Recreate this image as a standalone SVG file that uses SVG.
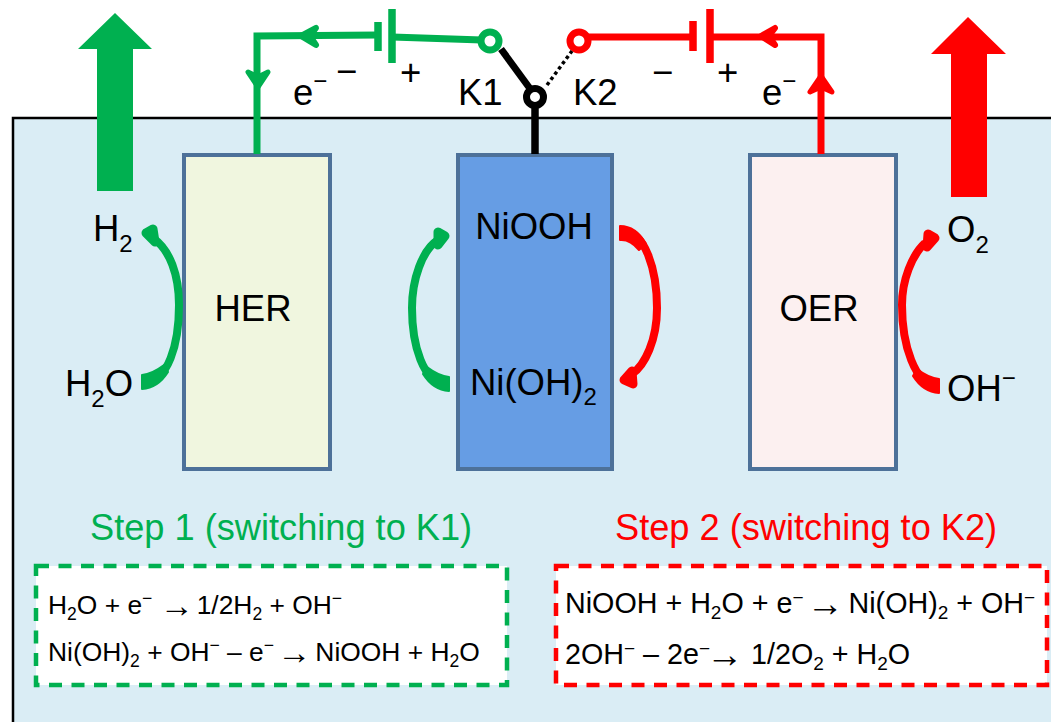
<svg xmlns="http://www.w3.org/2000/svg" width="1051" height="722" viewBox="0 0 1051 722">
<style>
text{font-family:"Liberation Sans",Arial,sans-serif;fill:#000}
.l{font-size:36.5px}
.eq{font-size:26.4px}
.eq2{font-size:28.7px}
.s{font-size:36.2px}
.e{stroke:#4d7199;stroke-width:4}
.g{stroke:#00b050;fill:none}
.r{stroke:#ff0000;fill:none}
.gf{fill:#00b050;stroke:#00b050;stroke-linejoin:round}
.rf{fill:#ff0000;stroke:#ff0000;stroke-linejoin:round}
</style>
<rect width="1051" height="722" fill="#fff"/>
<path d="M13 722V118H1051V722Z" fill="#daedf5"/>
<path d="M13 722V118H1051" fill="none" stroke="#000" stroke-width="2.5"/>
<g id="her"><rect class="e" x="184" y="155" width="146" height="314" fill="#f0f6df"/><text class="l" x="253" y="321" text-anchor="middle">HER</text></g>
<g id="ni"><rect class="e" x="458" y="155" width="154" height="314" fill="#669de4"/><text class="l" x="534" y="239" text-anchor="middle">NiOOH</text><text class="l" x="470" y="395">Ni(OH)<tspan font-size="24" dy="10">2</tspan></text></g>
<g id="oer"><rect class="e" x="750" y="155" width="146" height="314" fill="#fcf0f0"/><text class="l" x="819" y="321" text-anchor="middle">OER</text></g>
<g id="connectors">
<path class="g" stroke-width="7" d="M257 154V36L378 35"/>
<path class="g" stroke-width="7" d="M392 37L482 40"/>
<path class="g" stroke-width="7.5" d="M378 22V51M392 9V63"/>
<path class="gf" stroke-width="6" d="M301 36L316 28L310 36L316 45Z"/>
<path class="gf" stroke-width="5" d="M258 87L248 72L258 77L268 72Z"/>
<circle cx="490" cy="41" r="9" fill="#fff" stroke="#00b050" stroke-width="7"/>
<path class="r" stroke-width="7" d="M821 154V37H710"/>
<path class="r" stroke-width="7" d="M693 37H588"/>
<path class="r" stroke-width="7.5" d="M693 21V51M710 9V63"/>
<path class="rf" stroke-width="6" d="M761 36L775 28L769 36L775 45Z"/>
<path class="rf" stroke-width="5" d="M821 76L810 92L821 87L832 92Z"/>
<circle cx="579" cy="41" r="9" fill="#fff" stroke="#ff0000" stroke-width="7"/>
<path d="M501 49L531 90" stroke="#000" stroke-width="7" fill="none"/>
<path d="M547 85L572 51" stroke="#000" stroke-width="3.5" stroke-dasharray="3.5 3" fill="none"/>
<path d="M535 105V154" stroke="#000" stroke-width="7.5"/>
<circle cx="535" cy="97" r="8.5" fill="#fff" stroke="#000" stroke-width="7"/>
<path class="g" stroke-width="8" d="M145 382C168 381 179 345 179 305C179 275 170 250 153 238"/>
<path class="gf" stroke-width="9" d="M146 233L153 229L155 242Z"/>
<path class="gf" stroke-width="2" d="M142 375Q152 374 164 365L168 372Q158 388 142 389Z"/>
<path class="g" stroke-width="8" d="M446 384C423 383 412 345 412 308C412 280 422 250 438 240"/>
<path class="gf" stroke-width="9" d="M445 236L438 232L438 245Z"/>
<path class="gf" stroke-width="2" d="M449 377Q439 376 427 367L423 374Q433 390 449 391Z"/>
<path class="r" stroke-width="8" d="M623 231C645 231 657 270 657 308C657 340 645 365 632 374"/>
<path class="rf" stroke-width="9" d="M624 380L632 371L633 384Z"/>
<path class="rf" stroke-width="2" d="M620 226Q636 226 646 244L639 250Q630 239 620 240Z"/>
<path class="r" stroke-width="8" d="M937 386C915 385 902 345 902 305C902 280 912 255 925 243"/>
<path class="rf" stroke-width="9" d="M935 238L928 234L927 247Z"/>
<path class="rf" stroke-width="2" d="M939 379Q929 378 917 369L913 376Q923 392 939 393Z"/>
</g>
<g id="gas-h2"><path d="M115 13L152 49H133V191H97V49H78Z" fill="#00b050"/></g>
<g id="gas-o2"><path d="M968 17L1006 54H987V197H951V54H931Z" fill="#ff0000"/></g>
<g id="labels">
<text class="l" x="293" y="105">e<tspan font-size="24" dy="-16">−</tspan></text>
<text class="l" x="336" y="84">−</text>
<text class="l" x="400" y="85">+</text>
<text class="l" x="458" y="105">K1</text>
<text class="l" x="573" y="105">K2</text>
<text class="l" x="652" y="85">−</text>
<text class="l" x="717" y="85">+</text>
<text class="l" x="762" y="105">e<tspan font-size="24" dy="-16">−</tspan></text>
<text class="l" x="93" y="241">H<tspan font-size="24" dy="11">2</tspan></text>
<text class="l" x="65" y="396">H<tspan font-size="24" dy="11">2</tspan><tspan dy="-11">O</tspan></text>
<text class="l" x="947" y="242">O<tspan font-size="24" dy="11">2</tspan></text>
<text class="l" x="947" y="401">OH<tspan font-size="24" dy="-15">−</tspan></text>
<text class="s" x="90" y="540" style="fill:#00b050">Step 1 (switching to K1)</text>
<text class="s" x="615" y="540" style="fill:#ff0000">Step 2 (switching to K2)</text>
</g>
<g id="step1"><rect x="36" y="566" width="471" height="119" fill="#fff" stroke="#00b050" stroke-width="4.5" stroke-dasharray="13 9.5"/>
<text class="eq" x="48" y="614">H<tspan font-size="17.5" dy="6">2</tspan><tspan dy="-6">O + e</tspan><tspan font-size="17.5" dy="-10">−</tspan><tspan dy="10"> </tspan><tspan font-size="34" dy="2.5">→</tspan><tspan dy="-2.5" dx="3">1/2H</tspan><tspan font-size="17.5" dy="6">2</tspan><tspan dy="-6"> + OH</tspan><tspan font-size="17.5" dy="-10">−</tspan></text>
<text class="eq" x="48" y="661">Ni(OH)<tspan font-size="17.5" dy="6">2</tspan><tspan dy="-6"> + OH</tspan><tspan font-size="17.5" dy="-10">−</tspan><tspan dy="10"> – e</tspan><tspan font-size="17.5" dy="-10">−</tspan><tspan dy="10"> </tspan><tspan font-size="34" dy="2.5" dx="-4">→</tspan><tspan dy="-2.5" dx="4">NiOOH + H</tspan><tspan font-size="17.5" dy="6">2</tspan><tspan dy="-6">O</tspan></text></g>
<g id="step2"><rect x="556" y="566" width="491" height="119" fill="#fff" stroke="#ff0000" stroke-width="4.5" stroke-dasharray="13 9.5"/>
<text class="eq2" x="565" y="613">NiOOH + H<tspan font-size="19" dy="6">2</tspan><tspan dy="-6">O + e</tspan><tspan font-size="19" dy="-9">−</tspan><tspan dy="9"> </tspan><tspan font-size="37" dy="2.5" dx="-5">→</tspan><tspan dy="-2.5" dx="5">Ni(OH)</tspan><tspan font-size="19" dy="6">2</tspan><tspan dy="-6"> + OH</tspan><tspan font-size="19" dy="-9">−</tspan></text>
<text class="eq2" x="565" y="664">2OH<tspan font-size="19" dy="-9">−</tspan><tspan dy="9"> – 2e</tspan><tspan font-size="19" dy="-9">−</tspan><tspan font-size="37" dy="11.5" dx="-4">→</tspan><tspan dy="-2.5" dx="8">1/2O</tspan><tspan font-size="19" dy="6">2</tspan><tspan dy="-6"> + H</tspan><tspan font-size="19" dy="6">2</tspan><tspan dy="-6">O</tspan></text></g>
</svg>
